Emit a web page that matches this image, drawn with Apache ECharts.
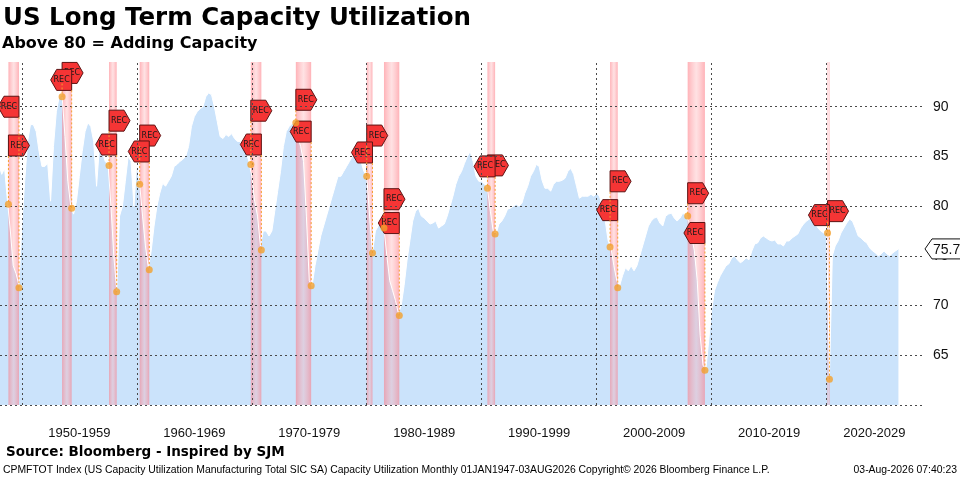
<!DOCTYPE html>
<html>
<head>
<meta charset="utf-8">
<title>US Long Term Capacity Utilization</title>
<script src="https://cdn.jsdelivr.net/npm/echarts@6/dist/echarts.min.js"></script>
<style>
html, body { margin: 0; padding: 0; background: #fff; }
#main { width: 960px; height: 479px; }
</style>
</head>
<body>
<div id="main"></div>
<script>
// quarterly readings of CPMFTOT, starting Q1 1948
var firstYear = 1948;
var capUtil = [
    84.2, 83.2, 83.8, 80.5,  77.5, 74.0, 73.2, 72.0,  78.0, 82.5, 86.5, 88.2,  88.2, 87.5, 85.5, 84.0,
    84.0, 84.3, 80.5, 86.0,  89.5, 91.0, 91.2, 87.0,  82.5, 80.0, 79.2, 80.5,  83.0, 85.5, 87.5, 88.4,
    88.0, 86.5, 82.0, 86.0,  85.5, 84.5, 84.2, 80.0,  75.0, 71.5, 79.0, 80.0,  82.5, 85.0, 84.5, 80.0,
    84.5, 82.2, 79.0, 76.0,  73.8, 75.5, 78.0, 80.0,  81.3, 82.3, 82.0, 82.5,  83.0, 84.0, 84.2, 84.5,
    84.7, 85.0, 86.0, 88.0,  89.0, 89.5, 89.8, 90.0,  91.0, 91.4, 91.2, 90.0,  88.5, 87.0, 86.8, 87.2,
    87.0, 87.3, 86.8, 86.5,  86.5, 86.0, 85.5, 84.5,  83.0, 80.5, 79.0, 76.0,  77.5, 77.5, 77.0, 77.5,
    79.5, 81.5, 83.5, 86.0,  87.5, 88.0, 88.3, 88.4,  87.0, 86.0, 84.5, 79.0,  72.5, 72.0, 74.0, 75.5,
    77.0, 78.0, 79.0, 80.0,  81.0, 82.0, 83.0, 83.0,  83.5, 84.0, 84.5, 85.0,  85.2, 85.0, 84.5, 83.5,
    83.0, 79.0, 75.3, 77.5,  78.0, 78.3, 77.8, 75.0,  72.5, 71.5, 70.5, 69.2,  70.0, 72.0, 74.5, 76.5,
    78.5, 79.5, 79.8, 79.0,  78.8, 78.5, 78.2, 78.3,  78.5, 77.8, 78.0, 78.2,  79.0, 80.0, 81.0, 82.2,
    83.0, 83.5, 84.3, 85.0,  85.5, 84.5, 83.0, 82.5,  82.5, 82.2, 81.8, 79.5,  77.5, 77.2, 78.2, 78.5,
    79.0, 79.7, 79.8, 80.0,  80.2, 80.0, 80.3, 81.3,  82.0, 83.0, 83.5, 84.2,  84.0, 82.6, 81.8, 81.8,
    81.5, 82.2, 82.5, 82.5,  82.6, 82.8, 83.5, 83.8,  83.2, 82.0, 80.8, 81.0,  81.0, 81.0, 81.2, 81.0,
    81.3, 81.0, 80.0, 78.5,  76.5, 75.8, 74.0, 72.5,  72.0, 73.0, 73.8, 73.5,  74.0, 73.5, 74.0, 75.0,
    76.0, 77.0, 78.0, 78.5,  78.8, 78.9, 78.3, 78.0,  79.0, 79.2, 79.3, 78.8,  78.5, 78.8, 79.3, 79.0,
    78.5, 77.0, 75.5, 72.5,  67.0, 64.0, 63.6, 66.5,  69.5, 71.5, 72.3, 73.0,  73.5, 74.0, 74.2, 74.8,
    75.0, 74.6, 74.3, 74.5,  74.8, 74.6, 75.5, 76.2,  76.3, 76.8, 77.0, 76.8,  76.6, 76.5, 76.6, 76.2,
    76.2, 76.0, 76.5, 76.5,  76.8, 77.0, 77.2, 77.8,  78.2, 78.5, 78.7, 78.8,  78.3, 77.8, 77.5, 77.3,
    77.3, 63.0, 75.0, 76.0,  76.5, 77.3, 77.8, 78.3,  78.7, 78.5, 77.8, 77.0,  76.8, 76.5, 76.3, 75.8,
    75.5, 75.3, 75.0, 75.2,  75.5, 75.2, 75.0, 75.3,  75.5, 75.7
];

// NBER recessions (peak month, trough month)
var recStart = ['1948-11', '1953-07', '1957-08', '1960-04', '1969-12', '1973-11',
                '1980-01', '1981-07', '1990-07', '2001-03', '2007-12', '2020-02'];
var recEnd   = ['1949-10', '1954-05', '1958-04', '1961-02', '1970-11', '1975-03',
                '1980-07', '1982-11', '1991-03', '2001-11', '2009-06', '2020-04'];
// utilization at the start / end of each recession
var recStartVal = [80.2, 91.0, 84.1, 82.2, 84.2, 88.4, 83.0, 77.8, 81.8, 75.9, 79.0, 77.3];
var recEndVal   = [71.8, 79.8, 71.4, 73.6, 75.6, 72.0, 75.3, 69.0, 77.2, 71.8, 63.5, 62.6];
// level of the REC flags
var recStartFlag = [86.1, 93.4, 88.6, 87.1, 89.6, 90.7, 87.1, 80.7, 84.1, 82.5, 81.3, 79.5];
var recEndFlag   = [90.0, 92.7, 86.2, 85.5, 86.2, 87.5, 85.4, 78.3, 84.0, 79.6, 77.3, 79.1];

var decades = [1950, 1960, 1970, 1980, 1990, 2000, 2010, 2020];
var yTicks = [60, 65, 70, 75, 80, 85, 90];

var xMin = 1948.1, xMax = 2028.3;
var yMin = 60, yMax = 94.5;

function toYear(s) {
    var p = s.split('-');
    return +p[0] + (+p[1] - 1) / 12;
}

var lineData = capUtil.map(function (v, i) {
    return [firstYear + i / 4, v]
});
var bandData = recStart.map(function (s, i) {
    return [toYear(s), toYear(recEnd[i]), yMin]
});
var flagData = [];
for (var i = 0; i < recStart.length; i++) {
    flagData.push([toYear(recStart[i]), recStartVal[i], recStartFlag[i], 1]);
}
for (var i = 0; i < recEnd.length; i++) {
    flagData.push([toYear(recEnd[i]), recEndVal[i], recEndFlag[i], -1]);
}
var lastPoint = lineData[lineData.length - 1];

// label centres: middle of each decade, last one middle of the visible part
var labelAt = decades.map(function (d) {
    return d + 10 <= xMax ? d + 5 : (d + xMax) / 2
});

var dotted = {color: '#4a4a4a', width: 1, type: [2, 3]};
var gridLines = decades.map(function (d) {
    return {xAxis: d}
}).concat(yTicks.map(function (t) {
    return {yAxis: t}
}));

function renderBand(params, api) {
    var cs = params.coordSys;
    var x0 = api.coord([api.value(0), yMin])[0];
    var x1 = api.coord([api.value(1), yMin])[0];
    return {
        type: 'rect',
        shape: {x: x0, y: cs.y, width: Math.max(x1 - x0, 1.5), height: cs.height},
        style: {
            fill: new echarts.graphic.LinearGradient(0, 0, 1, 0, [
                {offset: 0, color: 'rgba(255,115,125,0.55)'},
                {offset: 0.5, color: 'rgba(255,170,175,0.35)'},
                {offset: 1, color: 'rgba(255,115,125,0.55)'}
            ])
        }
    };
}

function renderFlag(params, api) {
    var dir = api.value(3);
    var p = api.coord([api.value(0), api.value(2)]);
    var ax = p[0], fy = p[1], h = 10.5;
    var pts = [[ax, fy - h], [ax + dir * 15, fy - h], [ax + dir * 21, fy], [ax + dir * 15, fy + h], [ax, fy + h]];
    return {
        type: 'group',
        children: [
            {type: 'polygon', shape: {points: pts}, style: {fill: '#f53535', stroke: '#5c1414', lineWidth: 1}},
            {
                type: 'text',
                style: {
                    text: 'REC', x: ax + dir * 10, y: fy,
                    align: 'center', verticalAlign: 'middle',
                    font: '8px "DejaVu Sans"', fill: '#1a1a1a'
                }
            }
        ]
    };
}

function renderLeader(params, api) {
    var x = api.value(0);
    var pf = api.coord([x, api.value(2)]);
    var pd = api.coord([x, api.value(1)]);
    return {
        type: 'group',
        children: [
            {
                type: 'line',
                shape: {x1: pf[0], y1: pf[1] + 10.5, x2: pd[0], y2: pd[1]},
                style: {stroke: '#f5a030', lineWidth: 1, lineDash: [2, 2]}
            },
            {type: 'circle', shape: {cx: pd[0], cy: pd[1], r: 3.5}, style: {fill: 'rgba(242,160,45,0.8)'}}
        ]
    };
}

function renderTag(params, api) {
    var cs = params.coordSys;
    var y = api.coord([api.value(0), api.value(1)])[1];
    var x = cs.x + cs.width + 3;
    return {
        type: 'group',
        children: [
            {
                type: 'polygon',
                shape: {points: [[x, y], [x + 7, y - 10], [x + 40, y - 10], [x + 40, y + 10], [x + 7, y + 10]]},
                style: {fill: '#fff', stroke: '#111', lineWidth: 1}
            },
            {
                type: 'text',
                style: {
                    text: api.value(1).toFixed(1), x: x + 8, y: y + 1,
                    align: 'left', verticalAlign: 'middle',
                    font: '14px "Liberation Sans"', fill: '#111'
                }
            }
        ]
    };
}

var myChart = echarts.init(document.getElementById('main'), null, {renderer: 'canvas'});

var option = {
    animation: false,
    backgroundColor: '#fff',
    textStyle: {fontFamily: '"Liberation Sans", Arial, sans-serif'},
    grid: {left: 0, right: 38, top: 62, bottom: 74, containLabel: false, outerBoundsMode: 'none'},
    graphic: [
        {
            type: 'text', left: 3, top: 6,
            style: {text: 'US Long Term Capacity Utilization', font: 'bold 24.5px "DejaVu Sans"', fill: '#000'}
        },
        {
            type: 'text', left: 2, top: 36,
            style: {text: 'Above 80 = Adding Capacity', font: 'bold 16px "DejaVu Sans"', fill: '#000'}
        },
        {
            type: 'text', left: 6, top: 445,
            style: {text: 'Source: Bloomberg - Inspired by SJM', font: 'bold 13.5px "DejaVu Sans"', fill: '#000'}
        },
        {
            type: 'text', left: 3, top: 465,
            style: {
                text: 'CPMFTOT Index (US Capacity Utilization Manufacturing Total SIC SA) Capacity Utilization Monthly 01JAN1947-03AUG2026 Copyright\u00a9 2026 Bloomberg Finance L.P.',
                font: '10.4px "Liberation Sans"', fill: '#000'
            }
        },
        {
            type: 'text', right: 3, top: 465,
            style: {text: '03-Aug-2026 07:40:23', font: '10.4px "Liberation Sans"', fill: '#000'}
        }
    ],
    xAxis: {
        type: 'value',
        min: xMin,
        max: xMax,
        axisLine: {show: false},
        axisTick: {show: false},
        splitLine: {show: false},
        axisLabel: {
            customValues: labelAt,
            margin: 22,
            fontSize: 13,
            color: '#111',
            formatter: function (v) {
                var d = Math.floor(v / 10) * 10;
                return d + '-' + (d + 9)
            }
        }
    },
    yAxis: {
        type: 'value',
        position: 'right',
        min: yMin,
        max: yMax,
        interval: 5,
        axisLine: {show: false},
        axisTick: {show: false},
        splitLine: {show: false},
        axisLabel: {
            margin: 11,
            fontSize: 14,
            color: '#111',
            formatter: function (v) {
                return (v > 60 && v <= 90 && v % 5 === 0) ? String(v) : ''
            }
        }
    },
    series: [
        {
            name: 'area',
            type: 'line',
            z: 1,
            data: lineData,
            symbol: 'none',
            lineStyle: {width: 0},
            areaStyle: {color: '#cbe3fb', opacity: 1, origin: 'start'},
            markLine: {
                silent: true,
                symbol: 'none',
                label: {show: false},
                lineStyle: dotted,
                data: gridLines
            }
        },
        {
            name: 'recessions',
            type: 'custom',
            z: 2,
            data: bandData,
            encode: {x: [0, 1], y: 2},
            renderItem: renderBand,
            silent: true
        },
        {
            name: 'CPMFTOT',
            type: 'line',
            z: 3,
            data: lineData,
            symbol: 'none',
            lineStyle: {color: '#ffffff', width: 1}
        },
        {
            name: 'flags',
            type: 'custom',
            z: 4,
            data: flagData,
            encode: {x: 0, y: [1, 2]},
            renderItem: renderFlag,
            silent: true
        },
        {
            name: 'leaders',
            type: 'custom',
            z: 5,
            data: flagData,
            encode: {x: 0, y: [1, 2]},
            renderItem: renderLeader,
            silent: true
        },
        {
            name: 'last',
            type: 'custom',
            z: 6,
            data: [lastPoint],
            encode: {x: 0, y: 1},
            renderItem: renderTag,
            clip: false,
            silent: true
        }
    ]
};

myChart.setOption(option);
</script>
</body>
</html>
